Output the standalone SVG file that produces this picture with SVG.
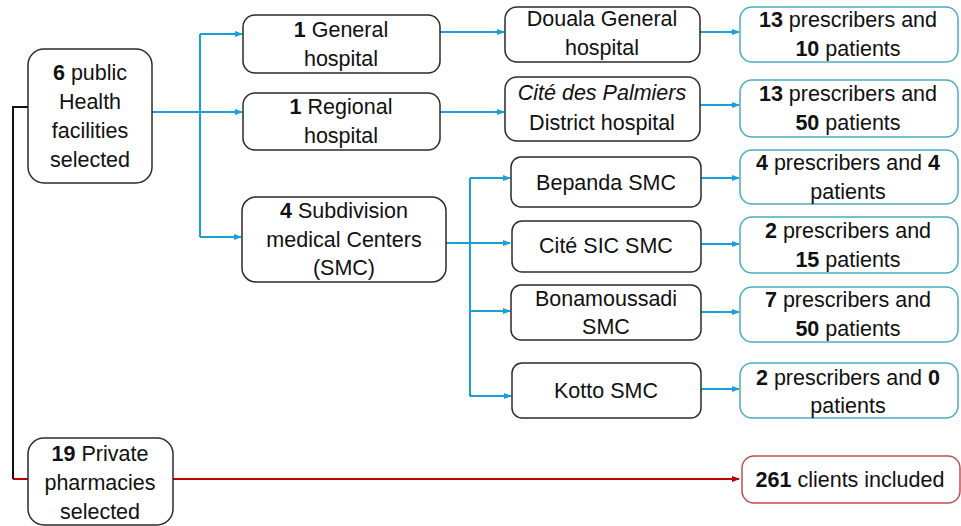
<svg xmlns="http://www.w3.org/2000/svg" width="961" height="526" viewBox="0 0 961 526">
<defs>
<style>
.n{fill:#fff;stroke:#2b2b2b;stroke-width:1.5}
.b{fill:#fff;stroke:#4bacc6;stroke-width:1.5}
.r{fill:#fff;stroke:#c0504d;stroke-width:1.5}
text{font-family:"Liberation Sans",Arial,sans-serif;font-size:21.5px;fill:#111;text-anchor:middle}
.bo{font-weight:bold}
.it{font-style:italic}
.cb{fill:none;stroke:#1a9fd8;stroke-width:2}
.ck{fill:none;stroke:#111;stroke-width:2}
.cr{fill:none;stroke:#c00000;stroke-width:2}
</style>
<marker id="ab" markerWidth="8" markerHeight="8" refX="7" refY="4" orient="auto" markerUnits="userSpaceOnUse"><path d="M0,1 L8,4 L0,7 z" fill="#1a9fd8"/></marker>
<marker id="ar" markerWidth="8" markerHeight="8" refX="7" refY="4" orient="auto" markerUnits="userSpaceOnUse"><path d="M0,1 L8,4 L0,7 z" fill="#c00000"/></marker>
</defs>
<rect width="961" height="526" fill="#fff"/>
<g id="connectors">
<path class="ck" d="M28,107 H13 V479"/>
<path class="cr" d="M13,479 H739" marker-end="url(#ar)"/>
<path class="cb" d="M152,112 H242" marker-end="url(#ab)"/>
<path class="cb" d="M200,34 V237"/>
<path class="cb" d="M200,34 H242" marker-end="url(#ab)"/>
<path class="cb" d="M200,237 H241" marker-end="url(#ab)"/>
<path class="cb" d="M440,32 H504" marker-end="url(#ab)"/>
<path class="cb" d="M440,112 H504" marker-end="url(#ab)"/>
<path class="cb" d="M446,243 H510" marker-end="url(#ab)"/>
<path class="cb" d="M470,178 V396"/>
<path class="cb" d="M470,178 H510" marker-end="url(#ab)"/>
<path class="cb" d="M470,311 H510" marker-end="url(#ab)"/>
<path class="cb" d="M470,396 H511" marker-end="url(#ab)"/>
<path class="cb" d="M700,32 H739" marker-end="url(#ab)"/>
<path class="cb" d="M700,105 H739" marker-end="url(#ab)"/>
<path class="cb" d="M701,178 H739" marker-end="url(#ab)"/>
<path class="cb" d="M701,244 H739" marker-end="url(#ab)"/>
<path class="cb" d="M701,312 H739" marker-end="url(#ab)"/>
<path class="cb" d="M701,389 H739" marker-end="url(#ab)"/>
</g>
<g id="public">
<rect class="n" x="28" y="49" width="124" height="134" rx="16"/>
<text x="90" y="80"><tspan class="bo">6</tspan> public</text>
<text x="90" y="109">Health</text>
<text x="90" y="138">facilities</text>
<text x="90" y="167">selected</text>
</g>
<g id="general">
<rect class="n" x="243" y="15" width="197" height="58" rx="12"/>
<text x="341" y="37"><tspan class="bo">1</tspan> General</text>
<text x="341" y="66">hospital</text>
</g>
<g id="regional">
<rect class="n" x="243" y="93" width="197" height="57" rx="12"/>
<text x="341" y="114"><tspan class="bo">1</tspan> Regional</text>
<text x="341" y="143">hospital</text>
</g>
<g id="subdivision">
<rect class="n" x="242" y="197" width="204" height="85" rx="14"/>
<text x="344" y="218"><tspan class="bo">4</tspan> Subdivision</text>
<text x="344" y="247">medical Centers</text>
<text x="344" y="275">(SMC)</text>
</g>
<g id="douala">
<rect class="n" x="505" y="7" width="195" height="55" rx="12"/>
<text x="602" y="26">Douala General</text>
<text x="602" y="55">hospital</text>
</g>
<g id="palmiers">
<rect class="n" x="505" y="77" width="195" height="64" rx="12"/>
<text x="602" y="100" class="it">Cité des Palmiers</text>
<text x="602" y="130">District hospital</text>
</g>
<g id="bepanda">
<rect class="n" x="511" y="157" width="190" height="50" rx="10"/>
<text x="606" y="190">Bepanda SMC</text>
</g>
<g id="citesic">
<rect class="n" x="512" y="221" width="189" height="51" rx="10"/>
<text x="606" y="253">Cité SIC SMC</text>
</g>
<g id="bonamoussadi">
<rect class="n" x="511" y="285" width="190" height="55" rx="10"/>
<text x="606" y="306">Bonamoussadi</text>
<text x="606" y="334">SMC</text>
</g>
<g id="kotto">
<rect class="n" x="512" y="363" width="189" height="55" rx="10"/>
<text x="606" y="398">Kotto SMC</text>
</g>
<g id="r1">
<rect class="b" x="740" y="7" width="218" height="55" rx="12"/>
<text x="848" y="27"><tspan class="bo">13</tspan> prescribers and</text>
<text x="848" y="56"><tspan class="bo">10</tspan> patients</text>
</g>
<g id="r2">
<rect class="b" x="740" y="80" width="218" height="57" rx="12"/>
<text x="848" y="101"><tspan class="bo">13</tspan> prescribers and</text>
<text x="848" y="130"><tspan class="bo">50</tspan> patients</text>
</g>
<g id="r3">
<rect class="b" x="740" y="150" width="218" height="54" rx="12"/>
<text x="848" y="170"><tspan class="bo">4</tspan> prescribers and <tspan class="bo">4</tspan></text>
<text x="848" y="199">patients</text>
</g>
<g id="r4">
<rect class="b" x="740" y="217" width="218" height="56" rx="12"/>
<text x="848" y="238"><tspan class="bo">2</tspan> prescribers and</text>
<text x="848" y="267"><tspan class="bo">15</tspan> patients</text>
</g>
<g id="r5">
<rect class="b" x="740" y="287" width="218" height="55" rx="12"/>
<text x="848" y="307"><tspan class="bo">7</tspan> prescribers and</text>
<text x="848" y="336"><tspan class="bo">50</tspan> patients</text>
</g>
<g id="r6">
<rect class="b" x="740" y="363" width="218" height="55" rx="12"/>
<text x="848" y="385"><tspan class="bo">2</tspan> prescribers and <tspan class="bo">0</tspan></text>
<text x="848" y="413">patients</text>
</g>
<g id="private">
<rect class="n" x="28" y="438" width="145" height="87" rx="16"/>
<text x="100" y="461"><tspan class="bo">19</tspan> Private</text>
<text x="100" y="490">pharmacies</text>
<text x="100" y="519">selected</text>
</g>
<g id="clients">
<rect class="r" x="742" y="456" width="218" height="47" rx="12"/>
<text x="850" y="487"><tspan class="bo">261</tspan> clients included</text>
</g>
</svg>
